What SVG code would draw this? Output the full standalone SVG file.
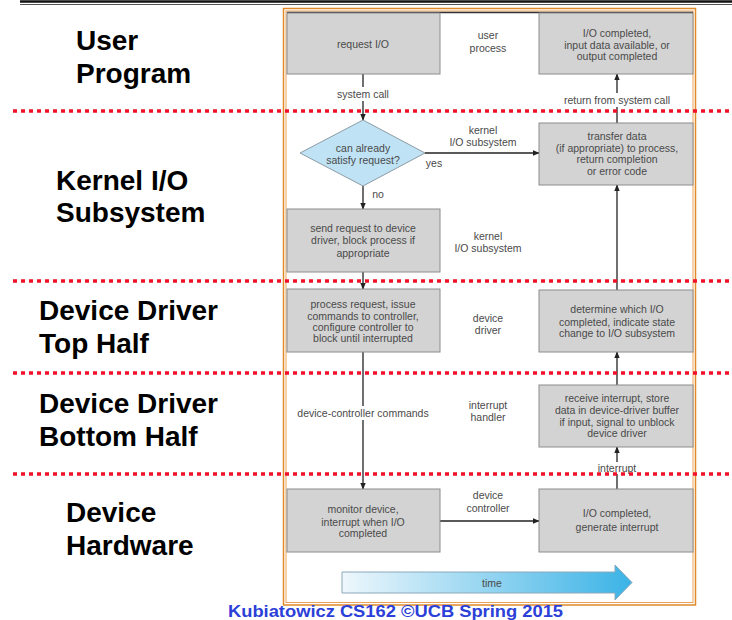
<svg xmlns="http://www.w3.org/2000/svg" width="732" height="620" viewBox="0 0 732 620">
<style>
.lbl{font-family:"Liberation Sans",Arial,sans-serif;font-weight:bold;font-size:28px;fill:#000}
.t{font-family:"Liberation Sans",Arial,sans-serif;font-size:10.5px;fill:#4a4a4a;text-anchor:middle}
.box{fill:#d3d3d3;stroke:#8c8c8c;stroke-width:1}
.conn{stroke:#222;stroke-width:1.3;fill:none}
.red{stroke:#f0102a;stroke-width:3.5;stroke-dasharray:4 4;fill:none}
.bg{fill:#fff}
</style>
<defs>
<marker id="ah" viewBox="0 0 10 10" refX="9" refY="5" markerWidth="7" markerHeight="7" markerUnits="userSpaceOnUse" orient="auto">
<path d="M0,1 L10,5 L0,9 Z" fill="#222"/>
</marker>
<linearGradient id="tg" x1="0" y1="0" x2="1" y2="0">
<stop offset="0" stop-color="#eef7fc"/>
<stop offset="1" stop-color="#3bb3e6"/>
</linearGradient>
</defs>
<rect width="732" height="620" fill="#fff"/>
<!-- top rule -->
<line x1="20" y1="1.5" x2="732" y2="1.5" stroke="#111" stroke-width="2.5"/>
<line x1="20" y1="4.5" x2="732" y2="4.5" stroke="#555" stroke-width="1.2"/>
<!-- frame -->
<rect x="283.5" y="8.5" width="412" height="596.5" fill="#fff" stroke="#e08a2a" stroke-width="1.5"/>
<rect x="286" y="11" width="407" height="591.5" fill="none" stroke="#eba35a" stroke-width="1"/>
<line x1="287" y1="12.5" x2="693" y2="12.5" stroke="#333" stroke-width="1.5"/>
<!-- side labels -->
<g id="labels">
<text class="lbl" x="76" y="50">User</text>
<text class="lbl" x="76" y="83">Program</text>
<text class="lbl" x="56" y="190">Kernel I/O</text>
<text class="lbl" x="56" y="222">Subsystem</text>
<text class="lbl" x="39" y="320">Device Driver</text>
<text class="lbl" x="39" y="353">Top Half</text>
<text class="lbl" x="39" y="413">Device Driver</text>
<text class="lbl" x="39" y="446">Bottom Half</text>
<text class="lbl" x="66" y="522">Device</text>
<text class="lbl" x="66" y="555">Hardware</text>
</g>
<!-- connectors -->
<g id="connectors">
<line class="conn" x1="363" y1="74" x2="363" y2="120" marker-end="url(#ah)"/>
<line class="conn" x1="425" y1="153" x2="539" y2="153" marker-end="url(#ah)"/>
<line class="conn" x1="363" y1="186" x2="363" y2="209" marker-end="url(#ah)"/>
<line class="conn" x1="363" y1="272" x2="363" y2="289" marker-end="url(#ah)"/>
<line class="conn" x1="363" y1="352" x2="363" y2="489" marker-end="url(#ah)"/>
<line class="conn" x1="440" y1="521" x2="539" y2="521" marker-end="url(#ah)"/>
<line class="conn" x1="617" y1="489" x2="617" y2="447" marker-end="url(#ah)"/>
<line class="conn" x1="617" y1="385" x2="617" y2="352" marker-end="url(#ah)"/>
<line class="conn" x1="617" y1="290" x2="617" y2="185" marker-end="url(#ah)"/>
<line class="conn" x1="617" y1="123" x2="617" y2="74" marker-end="url(#ah)"/>
<rect class="bg" x="332" y="87" width="62" height="14"/>
<text class="t" x="363" y="98">system call</text>
<rect class="bg" x="558" y="93" width="118" height="14"/>
<text class="t" x="617" y="104">return from system call</text>
<text class="t" x="378" y="198">no</text>
<text class="t" x="434" y="167">yes</text>
<rect class="bg" x="294" y="406" width="138" height="14"/>
<text class="t" x="363" y="417">device-controller commands</text>
<rect class="bg" x="594" y="462" width="46" height="12"/>
<text class="t" x="617" y="472">interrupt</text>
<text class="t" x="488" y="499">device</text>
<text class="t" x="488" y="512">controller</text>
</g>
<!-- layer annotations -->
<g id="annotations">
<text class="t" x="488" y="39">user</text>
<text class="t" x="488" y="52">process</text>
<text class="t" x="483" y="134">kernel</text>
<text class="t" x="483" y="146">I/O subsystem</text>
<text class="t" x="488" y="240">kernel</text>
<text class="t" x="488" y="252">I/O subsystem</text>
<text class="t" x="488" y="322">device</text>
<text class="t" x="488" y="334">driver</text>
<text class="t" x="488" y="409">interrupt</text>
<text class="t" x="488" y="421">handler</text>
</g>
<!-- nodes -->
<g id="request-io">
<rect class="box" x="287" y="13" width="153" height="61"/>
<text class="t" x="363" y="48">request I/O</text>
</g>
<g id="io-completed-top">
<rect class="box" x="539" y="13" width="154" height="61"/>
<text class="t" x="617" y="37">I/O completed,</text>
<text class="t" x="617" y="49">input data available, or</text>
<text class="t" x="617" y="60">output completed</text>
</g>
<g id="can-satisfy">
<polygon points="363,120 425,153 363,186 300,153" fill="#bfe2f4" stroke="#8c9ca6" stroke-width="1"/>
<text class="t" x="363" y="152">can already</text>
<text class="t" x="363" y="164">satisfy request?</text>
</g>
<g id="transfer-data">
<rect class="box" x="539" y="123" width="154" height="62"/>
<text class="t" x="617" y="140">transfer data</text>
<text class="t" x="617" y="152">(if appropriate) to process,</text>
<text class="t" x="617" y="163">return completion</text>
<text class="t" x="617" y="175">or error code</text>
</g>
<g id="send-request">
<rect class="box" x="287" y="209" width="153" height="63"/>
<text class="t" x="363" y="232">send request to device</text>
<text class="t" x="363" y="244">driver, block process if</text>
<text class="t" x="363" y="257">appropriate</text>
</g>
<g id="process-request">
<rect class="box" x="287" y="289" width="153" height="63"/>
<text class="t" x="363" y="308">process request, issue</text>
<text class="t" x="363" y="320">commands to controller,</text>
<text class="t" x="363" y="331">configure controller to</text>
<text class="t" x="363" y="342">block until interrupted</text>
</g>
<g id="determine">
<rect class="box" x="539" y="290" width="154" height="62"/>
<text class="t" x="617" y="313">determine which I/O</text>
<text class="t" x="617" y="326">completed, indicate state</text>
<text class="t" x="617" y="337">change to I/O subsystem</text>
</g>
<g id="receive-interrupt">
<rect class="box" x="539" y="385" width="154" height="62"/>
<text class="t" x="617" y="402">receive interrupt, store</text>
<text class="t" x="617" y="414">data in device-driver buffer</text>
<text class="t" x="617" y="426">if input, signal to unblock</text>
<text class="t" x="617" y="437">device driver</text>
</g>
<g id="monitor-device">
<rect class="box" x="287" y="489" width="153" height="63"/>
<text class="t" x="363" y="513">monitor device,</text>
<text class="t" x="363" y="526">interrupt when I/O</text>
<text class="t" x="363" y="537">completed</text>
</g>
<g id="io-completed-bottom">
<rect class="box" x="539" y="489" width="154" height="63"/>
<text class="t" x="617" y="517">I/O completed,</text>
<text class="t" x="617" y="531">generate interrupt</text>
</g>
<g id="time">
<polygon points="342,572 615,572 615,565 632,582.5 615,600 615,593 342,593" fill="url(#tg)" stroke="#8aa8ba" stroke-width="1"/>
<text class="t" x="492" y="587">time</text>
</g>
<!-- red dotted separators -->
<g id="separators">
<line class="red" x1="13" y1="111" x2="732" y2="111"/>
<line class="red" x1="13" y1="281" x2="732" y2="281"/>
<line class="red" x1="13" y1="373" x2="732" y2="373"/>
<line class="red" x1="13" y1="474" x2="732" y2="474"/>
</g>
<text x="228" y="617" textLength="335" lengthAdjust="spacingAndGlyphs" font-family="Liberation Sans,Arial,sans-serif" font-weight="bold" font-size="16" fill="#2b40d8">Kubiatowicz CS162 ©UCB Spring 2015</text>
</svg>
